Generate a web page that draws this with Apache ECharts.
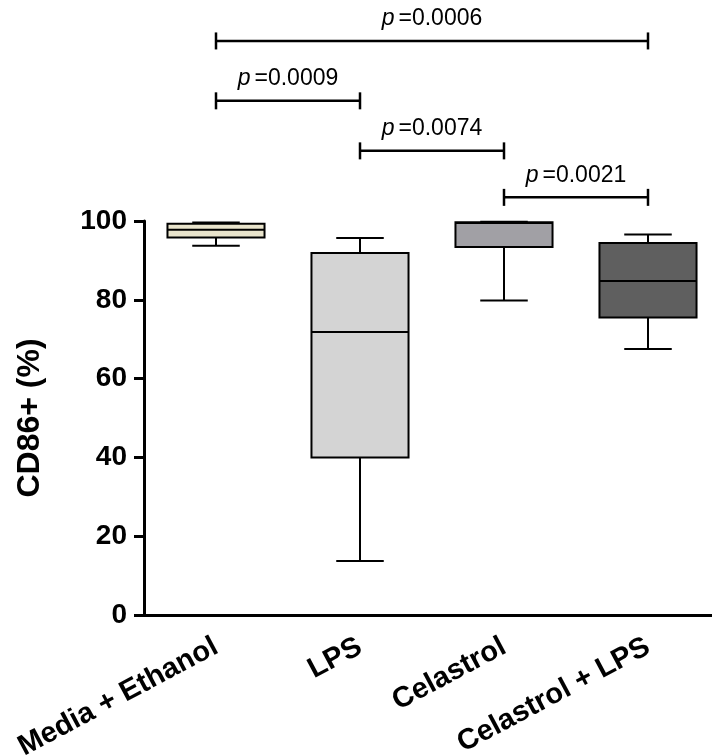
<!DOCTYPE html>
<html>
<head>
<meta charset="utf-8">
<script src="https://cdn.jsdelivr.net/npm/echarts@6/dist/echarts.min.js"></script>
<style>
  html, body { margin: 0; padding: 0; background: #fff; }
  #chart { width: 712px; height: 755px; }
</style>
</head>
<body>
<div id="chart"></div>
<script>
const categories = ['Media + Ethanol', 'LPS', 'Celastrol', 'Celastrol + LPS']
const whiskerLow = [93.7, 13.7, 79.8, 67.5]
const q1 = [95.8, 40.0, 93.4, 75.5]
const median = [97.8, 71.8, 99.5, 84.8]
const q3 = [99.3, 91.9, 99.7, 94.4]
const whiskerHigh = [99.6, 95.7, 99.8, 96.6]
const yTicks = [0, 20, 40, 60, 80, 100]

// significance brackets: from / to category index, bracket height (axis units), p value
const bracketFrom = [0, 0, 1, 2]
const bracketTo = [3, 1, 2, 3]
const bracketLevel = [145.7, 130.5, 117.8, 106.0]
const pValues = ['0.0006', '0.0009', '0.0074', '0.0021']

const boxColors = ['#e9e4cc', '#d4d4d4', '#a1a0a5', '#5f5f5f']
const FONT = '"Liberation Sans", Arial, sans-serif'

const boxData = categories.map((c, i) => [i, whiskerLow[i], q1[i], median[i], q3[i], whiskerHigh[i]])
const bracketData = pValues.map((p, i) => [bracketFrom[i], bracketTo[i], bracketLevel[i]])

function renderBox(params, api) {
  const i = api.value(0)
  const cell = api.size([1, 0])[0]
  const halfBox = cell * 0.337
  const halfCap = cell * 0.165
  const [cx, yLow] = api.coord([i, api.value(1)])
  const yQ1 = api.coord([i, api.value(2)])[1]
  const yMed = api.coord([i, api.value(3)])[1]
  const yQ3 = api.coord([i, api.value(4)])[1]
  const yHigh = api.coord([i, api.value(5)])[1]
  const line = { stroke: '#000', lineWidth: 2 }
  return {
    type: 'group',
    children: [
      { type: 'line', shape: { x1: cx, y1: yLow, x2: cx, y2: yQ1 }, style: line },
      { type: 'line', shape: { x1: cx, y1: yQ3, x2: cx, y2: yHigh }, style: line },
      { type: 'line', shape: { x1: cx - halfCap, y1: yLow, x2: cx + halfCap, y2: yLow }, style: line },
      { type: 'line', shape: { x1: cx - halfCap, y1: yHigh, x2: cx + halfCap, y2: yHigh }, style: line },
      {
        type: 'rect',
        shape: { x: cx - halfBox, y: yQ3, width: halfBox * 2, height: yQ1 - yQ3 },
        style: { fill: boxColors[params.dataIndex], stroke: '#000', lineWidth: 2 }
      },
      { type: 'line', shape: { x1: cx - halfBox, y1: yMed, x2: cx + halfBox, y2: yMed }, style: line }
    ]
  }
}

function renderBracket(params, api) {
  const [x1, y] = api.coord([api.value(0), api.value(2)])
  const x2 = api.coord([api.value(1), api.value(2)])[0]
  const line = { stroke: '#000', lineWidth: 2.5 }
  return {
    type: 'group',
    children: [
      { type: 'line', shape: { x1: x1, y1: y, x2: x2, y2: y }, style: line },
      { type: 'line', shape: { x1: x1, y1: y - 8.5, x2: x1, y2: y + 8.5 }, style: line },
      { type: 'line', shape: { x1: x2, y1: y - 8.5, x2: x2, y2: y + 8.5 }, style: line },
      {
        type: 'text',
        x: (x1 + x2) / 2,
        y: y - 22,
        style: {
          text: '{i|p}{n|=' + pValues[params.dataIndex] + '}',
          align: 'center',
          verticalAlign: 'middle',
          rich: {
            i: { fontFamily: FONT, fontSize: 23, fontStyle: 'italic', fill: '#000', padding: [0, 4, 0, 0] },
            n: { fontFamily: FONT, fontSize: 23, fill: '#000' }
          }
        }
      }
    ]
  }
}

const chart = echarts.init(document.getElementById('chart'))
chart.setOption({
  backgroundColor: '#fff',
  animation: false,
  grid: { left: 144, top: 221, width: 576, bottom: 140, outerBoundsMode: 'none' },
  xAxis: {
    type: 'category',
    data: categories,
    boundaryGap: true,
    axisLine: { lineStyle: { color: '#000', width: 3 } },
    axisTick: { alignWithLabel: true, length: 10, lineStyle: { color: '#000', width: 3 } },
    axisLabel: {
      interval: 0,
      rotate: 28,
      margin: 30,
      color: '#000',
      fontFamily: FONT,
      fontWeight: 'bold',
      fontSize: 29
    }
  },
  yAxis: {
    type: 'value',
    min: 0,
    max: 100,
    interval: 20,
    name: 'CD86+ (%)',
    nameLocation: 'middle',
    nameGap: 98,
    nameTextStyle: { color: '#000', fontFamily: FONT, fontWeight: 'bold', fontSize: 32 },
    splitLine: { show: false },
    axisLine: { show: true, lineStyle: { color: '#000', width: 3 } },
    axisTick: { show: true, length: 10, lineStyle: { color: '#000', width: 3 } },
    axisLabel: {
      margin: 17,
      color: '#000',
      fontFamily: FONT,
      fontWeight: 'bold',
      fontSize: 28,
      formatter: v => (yTicks.includes(v) ? String(v) : '')
    }
  },
  series: [
    {
      type: 'custom',
      name: 'CD86+',
      clip: false,
      renderItem: renderBox,
      encode: { x: 0, y: [1, 2, 3, 4, 5] },
      data: boxData
    },
    {
      type: 'custom',
      name: 'brackets',
      clip: false,
      renderItem: renderBracket,
      encode: { x: [0, 1], y: 2 },
      data: bracketData
    }
  ]
})
</script>
</body>
</html>
